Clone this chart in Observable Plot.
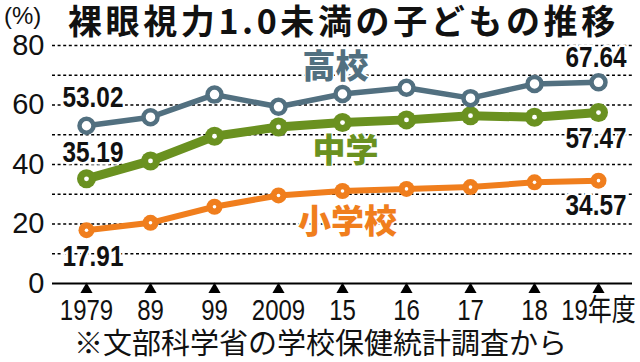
<!DOCTYPE html>
<html><head><meta charset="utf-8">
<script src="https://cdn.jsdelivr.net/npm/d3@7"></script>
<script src="https://cdn.jsdelivr.net/npm/@observablehq/plot@0.6"></script>
<style>
body{margin:0;background:#fff;}
#wrap{position:relative;width:640px;height:362px;overflow:hidden;font-family:"Noto Sans CJK JP",sans-serif;color:#111;}
#chart{position:absolute;left:0;top:0;}
#title{position:absolute;left:68px;top:3px;font-size:34px;font-weight:700;white-space:nowrap;letter-spacing:3.6px;line-height:1;}
#unit{position:absolute;left:4px;top:4px;font-size:24px;line-height:1;font-family:"Liberation Sans",sans-serif;}
#note{position:absolute;left:74px;top:327px;font-size:29px;white-space:nowrap;letter-spacing:0px;line-height:1;}
</style></head><body>
<div id="wrap"><div id="chart"></div><div id="unit">(%)</div><div id="title">裸眼視力1.0未満の子どもの推移</div><div id="note">※文部科学省の学校保健統計調査から</div></div>
<script>
const years = ["1979","89","99","2009","15","16","17","18","19年度"];
const highSchool = [53.02, 55.9, 63.5, 59.4, 63.7, 65.8, 62.3, 67.1, 67.64];
const juniorHigh = [35.19, 41.2, 49.5, 52.6, 54.1, 55.0, 56.4, 55.9, 57.47];
const elementary = [17.91, 20.4, 25.8, 29.6, 31.1, 31.8, 32.4, 34.0, 34.57];
const seriesNames = ["高校", "中学", "小学校"];
const yTicks = [0, 20, 40, 60, 80];
const gridValues = [10, 20, 30, 40, 50, 60, 70, 80];

const colors = {"高校": "#527080", "中学": "#6a9120", "小学校": "#f07e1d"};
const rows = (name, vals) => years.map((y, i) => ({year: y, value: vals[i], series: name}));
const hs = rows(seriesNames[0], highSchool);
const jh = rows(seriesNames[1], juniorHigh);
const el = rows(seriesNames[2], elementary);
const last = years.length - 1;

const sans = '"Liberation Sans","Noto Sans CJK JP",sans-serif';
const jp = '"Noto Sans CJK JP",sans-serif';
const valueLabel = {x: "year", y: "value", text: d => d.value.toFixed(2), fontFamily: sans, fontSize: 29, fontWeight: "bold", fill: "#111", stroke: "#fff", strokeWidth: 5};
const seriesLabel = {text: d => d, fontSize: 33, fontWeight: 900, fontFamily: jp, stroke: "#fff", strokeWidth: 3};

const chart = Plot.plot({
  width: 640, height: 362, marginTop: 45, marginBottom: 79, marginLeft: 52, marginRight: 8,
  x: {type: "point", domain: years, padding: 0.5, label: null},
  y: {domain: [0, 80], label: null},
  style: {background: "transparent", overflow: "visible"},
  marks: [
    Plot.ruleY(gridValues, {stroke: "#000", strokeWidth: 1.6, strokeDasharray: "3,2.6"}),
    Plot.ruleY([0], {stroke: "#000", strokeWidth: 2}),
    Plot.dot(years, {x: d => d, y: () => 0, dy: 6, symbol: "triangle", r: 4.5, fill: "#000"}),
    Plot.axisX({tickSize: 0, tickPadding: 15, fontSize: 30, fontFamily: sans, fill: "#111", label: null}),
    Plot.axisY({ticks: yTicks, tickSize: 0, tickPadding: 8, fontSize: 29, fontFamily: "Liberation Sans", fill: "#111", label: null}),
    // value labels (with white halo over grid)
    Plot.text([hs[0]], {...valueLabel, dx: -24, dy: -28, textAnchor: "start"}),
    Plot.text([jh[0]], {...valueLabel, dx: -24, dy: -26, textAnchor: "start"}),
    Plot.text([el[0]], {...valueLabel, dx: -24, dy: 26, textAnchor: "start"}),
    Plot.text([hs[last]], {...valueLabel, dx: 28, dy: -25, textAnchor: "end"}),
    Plot.text([jh[last]], {...valueLabel, dx: 28, dy: 26, textAnchor: "end"}),
    Plot.text([el[last]], {...valueLabel, dx: 28, dy: 25, textAnchor: "end"}),
    // elementary
    Plot.line(el, {x: "year", y: "value", stroke: colors["小学校"], strokeWidth: 6}),
    Plot.dot(el, {x: "year", y: "value", fill: colors["小学校"], r: 8}),
    Plot.dot(el, {x: "year", y: "value", fill: "#fff", r: 1.8}),
    // junior high
    Plot.line(jh, {x: "year", y: "value", stroke: colors["中学"], strokeWidth: 9}),
    Plot.dot(jh, {x: "year", y: "value", fill: colors["中学"], r: 9.5}),
    Plot.dot(jh, {x: "year", y: "value", fill: "#fff", r: 2.4}),
    // high school
    Plot.line(hs, {x: "year", y: "value", stroke: colors["高校"], strokeWidth: 5.5}),
    Plot.dot(hs, {x: "year", y: "value", fill: "#fff", stroke: colors["高校"], strokeWidth: 4.5, r: 7}),
    // series names
    Plot.text([seriesNames[0]], {...seriesLabel, x: () => "15", y: () => 72.6, dx: -7, fill: colors["高校"]}),
    Plot.text([seriesNames[1]], {...seriesLabel, x: () => "15", y: () => 44.4, dx: 3, fill: colors["中学"]}),
    Plot.text([seriesNames[2]], {...seriesLabel, x: () => "15", y: () => 20.5, dx: 5, fill: colors["小学校"]})
  ]
});

// condense numeric labels horizontally (narrow typeface look)
function condense(node, k) {
  const t = node.getAttribute("transform");
  if (t) {
    node.setAttribute("transform", t + ` scale(${k},1)`);
  } else {
    const x = +node.getAttribute("x") || 0, y = +node.getAttribute("y") || 0;
    node.removeAttribute("x"); node.removeAttribute("y");
    node.setAttribute("transform", `translate(${x},${y}) scale(${k},1)`);
  }
}
d3.select(chart).selectAll('g[aria-label="x-axis tick label"] text').each(function() { condense(this, 0.8); });
d3.select(chart).selectAll('g[aria-label="text"] text').each(function() {
  if (/^\d+\.\d\d$/.test(this.textContent)) condense(this, 0.84);
});
document.getElementById("chart").appendChild(chart);
</script>
</body></html>
